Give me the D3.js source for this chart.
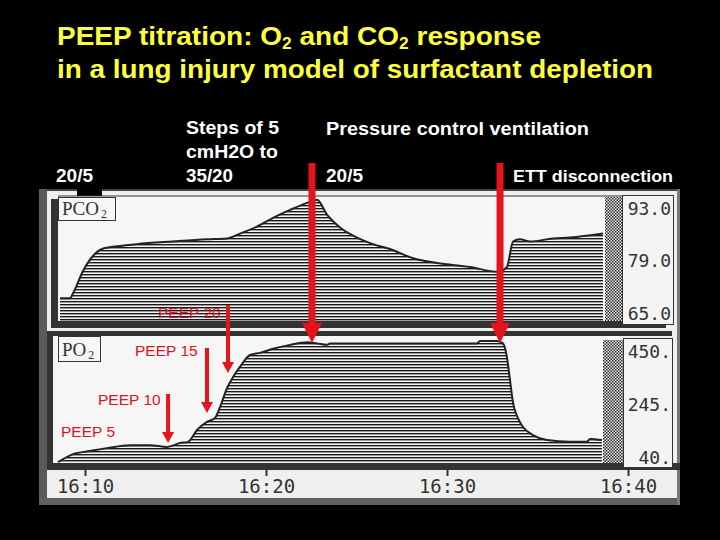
<!DOCTYPE html>
<html><head><meta charset="utf-8">
<script src="https://cdn.jsdelivr.net/npm/d3@7"></script>
<style>html,body{margin:0;padding:0;background:#000;}svg{display:block}</style>
</head><body>
<script>
// ---------- DATA (minutes after 16:00) ----------
const pco2Minutes = [8.62, 9.17, 9.34, 9.89, 10.44, 10.94, 11.77, 12.87, 14.86, 16.74, 17.85, 18.56, 19.50, 20.39, 21.33, 22.27, 22.82, 23.37, 24.09, 25.03, 25.91, 26.85, 28.12, 29.45, 31.27, 32.82, 33.31, 33.65, 34.03, 34.59, 35.86, 36.80, 38.62];
const pco2Values  = [70.2, 70.2, 71.3, 76.4, 79.8, 81.4, 82.0, 82.5, 83.1, 83.6, 83.8, 84.9, 86.5, 88.5, 90.3, 91.9, 92.6, 89.2, 86.3, 84.0, 82.5, 81.4, 79.3, 78.2, 77.3, 76.2, 77.3, 83.1, 83.6, 83.1, 83.8, 84.0, 84.9];
const po2Minutes  = [8.51, 9.34, 10.28, 11.22, 12.49, 13.59, 14.53, 15.25, 15.69, 16.19, 16.74, 17.18, 17.46, 17.85, 18.18, 18.56, 19.12, 19.67, 20.39, 21.33, 22.27, 22.82, 23.37, 23.54, 26.30, 31.66, 31.82, 32.76, 33.09, 33.31, 33.48, 33.65, 33.92, 34.20, 34.75, 35.52, 36.80, 37.73, 37.90, 38.56];
const po2Values   = [43, 70, 80, 90, 100, 100, 94, 107, 111, 151, 178, 191, 228, 292, 329, 363, 403, 410, 424, 437, 446, 442, 437, 442, 442, 442, 450, 450, 442, 396, 319, 242, 191, 161, 134, 117, 111, 111, 121, 117];
const timeTickMinutes = [10, 20, 30, 40];
const timeTickLabels  = ["16:10", "16:20", "16:30", "16:40"];
const pco2TickLabels  = ["93.0", "79.0", "65.0"];
const po2TickLabels   = ["450.", "245.", "40."];
const peepLabels      = ["PEEP 5", "PEEP 10", "PEEP 15", "PEEP 20"];
const peepArrowMinutes = [14.59, 16.74, 17.90];        // PEEP 10, 15, 20
const eventArrowMinutes = [22.54, 32.93];              // back to 20/5, ETT disconnection

// ---------- SETUP ----------
const W = 720, H = 540;
const svg = d3.select("body").append("svg").attr("width", W).attr("height", H);
svg.append("rect").attr("width", W).attr("height", H).attr("fill", "#000");

const defs = svg.append("defs");
const hatch = defs.append("pattern").attr("id", "hatch").attr("patternUnits", "userSpaceOnUse")
  .attr("width", 8).attr("height", 3);
hatch.append("rect").attr("width", 8).attr("height", 3).attr("fill", "#f3f3f3");
hatch.append("rect").attr("y", 1).attr("width", 8).attr("height", 1.4).attr("fill", "#1a1a1a");
const checker = defs.append("pattern").attr("id", "checker").attr("patternUnits", "userSpaceOnUse")
  .attr("width", 3).attr("height", 3);
checker.append("rect").attr("width", 3).attr("height", 3).attr("fill", "#ececec");
checker.append("rect").attr("width", 1.5).attr("height", 1.5).attr("fill", "#2a2a2a");
checker.append("rect").attr("x", 1.5).attr("y", 1.5).attr("width", 1.5).attr("height", 1.5).attr("fill", "#2a2a2a");

const x = d3.scaleLinear().domain([10, 40]).range([85, 628]);
const yC = d3.scaleLinear().domain([65, 93]).range([321, 198]);
const yO = d3.scaleLinear().domain([40, 450]).range([463, 341]);

// ---------- TITLE ----------
const title = svg.append("g").attr("font-family", "'Liberation Sans', Arial, sans-serif")
  .attr("font-weight", "bold").attr("fill", "#ffff3c").attr("font-size", 26);
const t1 = title.append("text").attr("x", 57).attr("y", 45).attr("textLength", 484).attr("lengthAdjust", "spacingAndGlyphs");
t1.append("tspan").text("PEEP titration: O");
t1.append("tspan").attr("font-size", "62%").attr("dy", 4).text("2");
t1.append("tspan").attr("dy", -4).text(" and CO");
t1.append("tspan").attr("font-size", "62%").attr("dy", 4).text("2");
t1.append("tspan").attr("dy", -4).text(" response");
title.append("text").attr("x", 57).attr("y", 78).attr("textLength", 596).attr("lengthAdjust", "spacingAndGlyphs")
  .text("in a lung injury model of surfactant depletion");

// ---------- SCANNED SHEET ----------
const sheet = svg.append("g");
sheet.append("rect").attr("x", 39).attr("y", 189).attr("width", 641).attr("height", 316).attr("fill", "#efefef");
sheet.append("rect").attr("x", 39).attr("y", 189).attr("width", 8).attr("height", 316).attr("fill", "#5a5a5a");
sheet.append("rect").attr("x", 39).attr("y", 498).attr("width", 641).attr("height", 7).attr("fill", "#606060");
sheet.append("rect").attr("x", 47).attr("y", 189).attr("width", 633).attr("height", 2).attr("fill", "#444");
sheet.append("rect").attr("x", 677).attr("y", 189).attr("width", 3).attr("height", 316).attr("fill", "#777");
sheet.append("rect").attr("x", 77).attr("y", 185).attr("width", 25).attr("height", 12).attr("fill", "#000");

// PCO2 panel frame
sheet.append("rect").attr("x", 58).attr("y", 196).attr("width", 564).attr("height", 125).attr("fill", "#f6f6f6");
sheet.append("line").attr("x1", 58).attr("x2", 622).attr("y1", 196).attr("y2", 196).attr("stroke", "#333").attr("stroke-width", 1);
sheet.append("rect").attr("x", 51).attr("y", 199).attr("width", 7).attr("height", 128).attr("fill", "#333");
sheet.append("rect").attr("x", 51).attr("y", 321).attr("width", 615).attr("height", 7).attr("fill", "#333");
sheet.append("rect").attr("x", 605).attr("y", 197).attr("width", 17).attr("height", 124).attr("fill", "url(#checker)");
sheet.append("rect").attr("x", 622.5).attr("y", 195.5).attr("width", 51).attr("height", 129).attr("fill", "#f4f4f4").attr("stroke", "#333");

// PO2 panel frame
sheet.append("rect").attr("x", 53).attr("y", 336).attr("width", 570).attr("height", 127).attr("fill", "#f6f6f6");
sheet.append("rect").attr("x", 47).attr("y", 331).attr("width", 625).attr("height", 5).attr("fill", "#333");
sheet.append("rect").attr("x", 47).attr("y", 336).attr("width", 6).attr("height", 134).attr("fill", "#333");
sheet.append("rect").attr("x", 47).attr("y", 463).attr("width", 633).attr("height", 7).attr("fill", "#333");
sheet.append("rect").attr("x", 603).attr("y", 340).attr("width", 20).attr("height", 123).attr("fill", "url(#checker)");
sheet.append("rect").attr("x", 623.5).attr("y", 338.5).attr("width", 49).attr("height", 129).attr("fill", "#f4f4f4").attr("stroke", "#333");

// ---------- AREAS ----------
const pco2 = pco2Minutes.map((m, i) => ({m, v: pco2Values[i]}));
const po2 = po2Minutes.map((m, i) => ({m, v: po2Values[i]}));
const areaC = d3.area().x(d => x(d.m)).y0(yC.range()[0]).y1(d => yC(d.v)).curve(d3.curveMonotoneX);
const lineC = d3.line().x(d => x(d.m)).y(d => yC(d.v)).curve(d3.curveMonotoneX);
const areaO = d3.area().x(d => x(d.m)).y0(yO.range()[0]).y1(d => yO(d.v)).curve(d3.curveMonotoneX);
const lineO = d3.line().x(d => x(d.m)).y(d => yO(d.v)).curve(d3.curveMonotoneX);
svg.append("path").datum(pco2).attr("d", areaC).attr("fill", "url(#hatch)");
svg.append("path").datum(pco2).attr("d", lineC).attr("fill", "none").attr("stroke", "#222").attr("stroke-width", 2);
svg.append("path").datum(po2).attr("d", areaO).attr("fill", "url(#hatch)");
svg.append("path").datum(po2).attr("d", lineO).attr("fill", "none").attr("stroke", "#222").attr("stroke-width", 2);

// Panel name boxes
function nameBox(bx, by, bw, bh, main) {
  sheet.append("rect").attr("x", bx + 0.5).attr("y", by + 0.5).attr("width", bw).attr("height", bh)
    .attr("fill", "#f6f6f6").attr("stroke", "#333");
  const t = svg.append("text").attr("x", bx + 4).attr("y", by + bh - 5)
    .attr("font-family", "'Liberation Serif', 'DejaVu Serif', serif").attr("font-size", 19).attr("fill", "#333");
  t.append("tspan").text(main);
  t.append("tspan").attr("font-size", 12).attr("dy", 3).attr("dx", 2).text("2");
}
nameBox(58, 197, 57, 23, "PCO");
nameBox(58, 336, 42, 25, "PO");

// ---------- AXES ----------
const mono = "'DejaVu Sans Mono', 'Liberation Mono', monospace";
const cLab = d3.scalePoint().domain(pco2TickLabels).range([214, 319]);
const oLab = d3.scalePoint().domain(po2TickLabels).range([357, 463]);
svg.append("g").attr("transform", "translate(671,0)")
  .call(d3.axisLeft(cLab).tickSize(0).tickPadding(0))
  .call(g => g.select(".domain").remove())
  .call(g => g.selectAll("text").attr("font-family", mono).attr("font-size", 18).attr("fill", "#333").attr("dy", 0));
svg.append("g").attr("transform", "translate(671,0)")
  .call(d3.axisLeft(oLab).tickSize(0).tickPadding(0))
  .call(g => g.select(".domain").remove())
  .call(g => g.selectAll("text").attr("font-family", mono).attr("font-size", 18).attr("fill", "#333").attr("dy", 0));
svg.append("g").attr("transform", "translate(0,470)")
  .call(d3.axisBottom(x).tickValues(timeTickMinutes).tickFormat((d, i) => timeTickLabels[i]).tickSize(6).tickPadding(4))
  .call(g => g.select(".domain").remove())
  .call(g => g.selectAll("line").attr("stroke", "#333").attr("stroke-width", 2))
  .call(g => g.selectAll("text").attr("font-family", mono).attr("font-size", 19).attr("fill", "#333"));

// ---------- RED ANNOTATIONS ----------
const red = "#e5141c";
function arrow(cx, y1, y2, lw, hw, hh) {
  svg.append("rect").attr("x", cx - lw / 2).attr("y", y1).attr("width", lw).attr("height", y2 - hh - y1 + 1).attr("fill", red);
  svg.append("path").attr("d", `M${cx - hw / 2},${y2 - hh}L${cx + hw / 2},${y2 - hh}L${cx},${y2}Z`).attr("fill", red);
}
eventArrowMinutes.forEach(m => arrow(x(m), 163, 343, 7, 20, 20));
const peepTips = [443, 413, 373];
const peepTops = [394, 348, 305];
peepArrowMinutes.forEach((m, i) => arrow(x(m), peepTops[i], peepTips[i], 4, 12, 11));
const peepLabelPos = [[61, 437], [98, 405], [135, 356], [158, 318]];
svg.append("g").selectAll("text").data(peepLabels).join("text")
  .attr("x", (d, i) => peepLabelPos[i][0]).attr("y", (d, i) => peepLabelPos[i][1])
  .attr("font-family", "'Liberation Sans', Arial, sans-serif").attr("font-size", 15.5).attr("fill", "#d8141c")
  .text(d => d);

// ---------- WHITE TOP LABELS ----------
const wl = svg.append("g").attr("font-family", "'Liberation Sans', Arial, sans-serif")
  .attr("font-weight", "bold").attr("fill", "#fff");
function wtext(s, tx, ty, fs, len) {
  wl.append("text").attr("x", tx).attr("y", ty).attr("font-size", fs)
    .attr("textLength", len).attr("lengthAdjust", "spacingAndGlyphs").text(s);
}
wtext("20/5", 56, 182, 18, 37);
wtext("Steps of 5", 186, 134, 18, 93);
wtext("cmH2O to", 186, 158, 18, 92);
wtext("35/20", 186, 182, 18, 47);
wtext("Pressure control ventilation", 326, 135, 18, 263);
wtext("20/5", 326, 182, 18, 37);
wtext("ETT disconnection", 513, 182, 17, 160);
</script>
</body></html>
